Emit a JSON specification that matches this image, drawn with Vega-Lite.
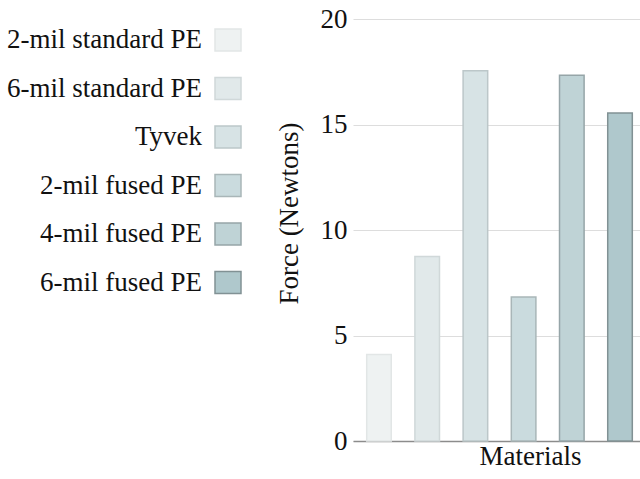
{
  "$schema": "https://vega.github.io/schema/vega-lite/v6.json",
  "width": 293,
  "height": 422,
  "autosize": {"type": "none"},
  "padding": {"left": 353, "top": 19, "right": 0, "bottom": 38},
  "config": {
    "font": "Liberation Serif, Times New Roman, serif",
    "view": {"stroke": null},
    "axis": {"labelFont": "Liberation Serif, Times New Roman, serif", "titleFont": "Liberation Serif, Times New Roman, serif"},
    "legend": {"labelFont": "Liberation Serif, Times New Roman, serif"}
  },
  "data": {"values": [
    {"material": "2-mil standard PE", "force": 4.1},
    {"material": "6-mil standard PE", "force": 8.75},
    {"material": "Tyvek", "force": 17.55},
    {"material": "2-mil fused PE", "force": 6.82},
    {"material": "4-mil fused PE", "force": 17.33},
    {"material": "6-mil fused PE", "force": 15.54}
  ]},
  "mark": {"type": "bar", "strokeWidth": 1.5},
  "encoding": {
    "x": {
      "field": "material", "type": "nominal",
      "sort": ["2-mil standard PE", "6-mil standard PE", "Tyvek", "2-mil fused PE", "4-mil fused PE", "6-mil fused PE"],
      "scale": {"paddingInner": 0.49, "paddingOuter": 0.284},
      "axis": {"labels": false, "ticks": false, "domain": true, "domainColor": "#8c8c8c", "domainWidth": 1.5, "title": "Materials", "titleFontSize": 27, "titleFontWeight": "normal", "titleColor": "#111", "titleX": 177, "titlePadding": 2}
    },
    "y": {
      "field": "force", "type": "quantitative",
      "scale": {"domain": [0, 20]},
      "axis": {"values": [0, 5, 10, 15, 20], "domain": false, "ticks": false, "labelFontSize": 27, "labelColor": "#111", "labelPadding": 6, "gridColor": "#dddddd", "title": "Force (Newtons)", "titleFontSize": 27, "titleFontWeight": "normal", "titleColor": "#111", "titlePadding": 17, "titleY": 194}
    },
    "color": {
      "field": "material", "type": "nominal",
      "sort": ["2-mil standard PE", "6-mil standard PE", "Tyvek", "2-mil fused PE", "4-mil fused PE", "6-mil fused PE"],
      "scale": {"range": ["#eef2f2", "#e1e9ea", "#d7e3e5", "#cadbde", "#bfd3d6", "#afc8cc"]},
      "legend": {
        "orient": "none", "legendX": -139, "legendY": 7, "padding": 0,
        "title": null,
        "symbolType": "M-1,-0.85H1V0.85H-1Z", "symbolSize": 676, "symbolStrokeWidth": 1.5,
        "labelFontSize": 27, "labelColor": "#111", "labelAlign": "right", "labelOffset": -40, "labelLimit": 400,
        "rowPadding": 18.5,
        "encode": {"symbols": {"update": {"stroke": {"scale": "stroke", "field": "value"}}}}
      }
    },
    "stroke": {
      "field": "material", "type": "nominal",
      "sort": ["2-mil standard PE", "6-mil standard PE", "Tyvek", "2-mil fused PE", "4-mil fused PE", "6-mil fused PE"],
      "scale": {"range": ["#e2e6e6", "#d0d8d9", "#bcc7c9", "#a9b6b8", "#96a5a8", "#819194"]},
      "legend": null
    }
  }
}
